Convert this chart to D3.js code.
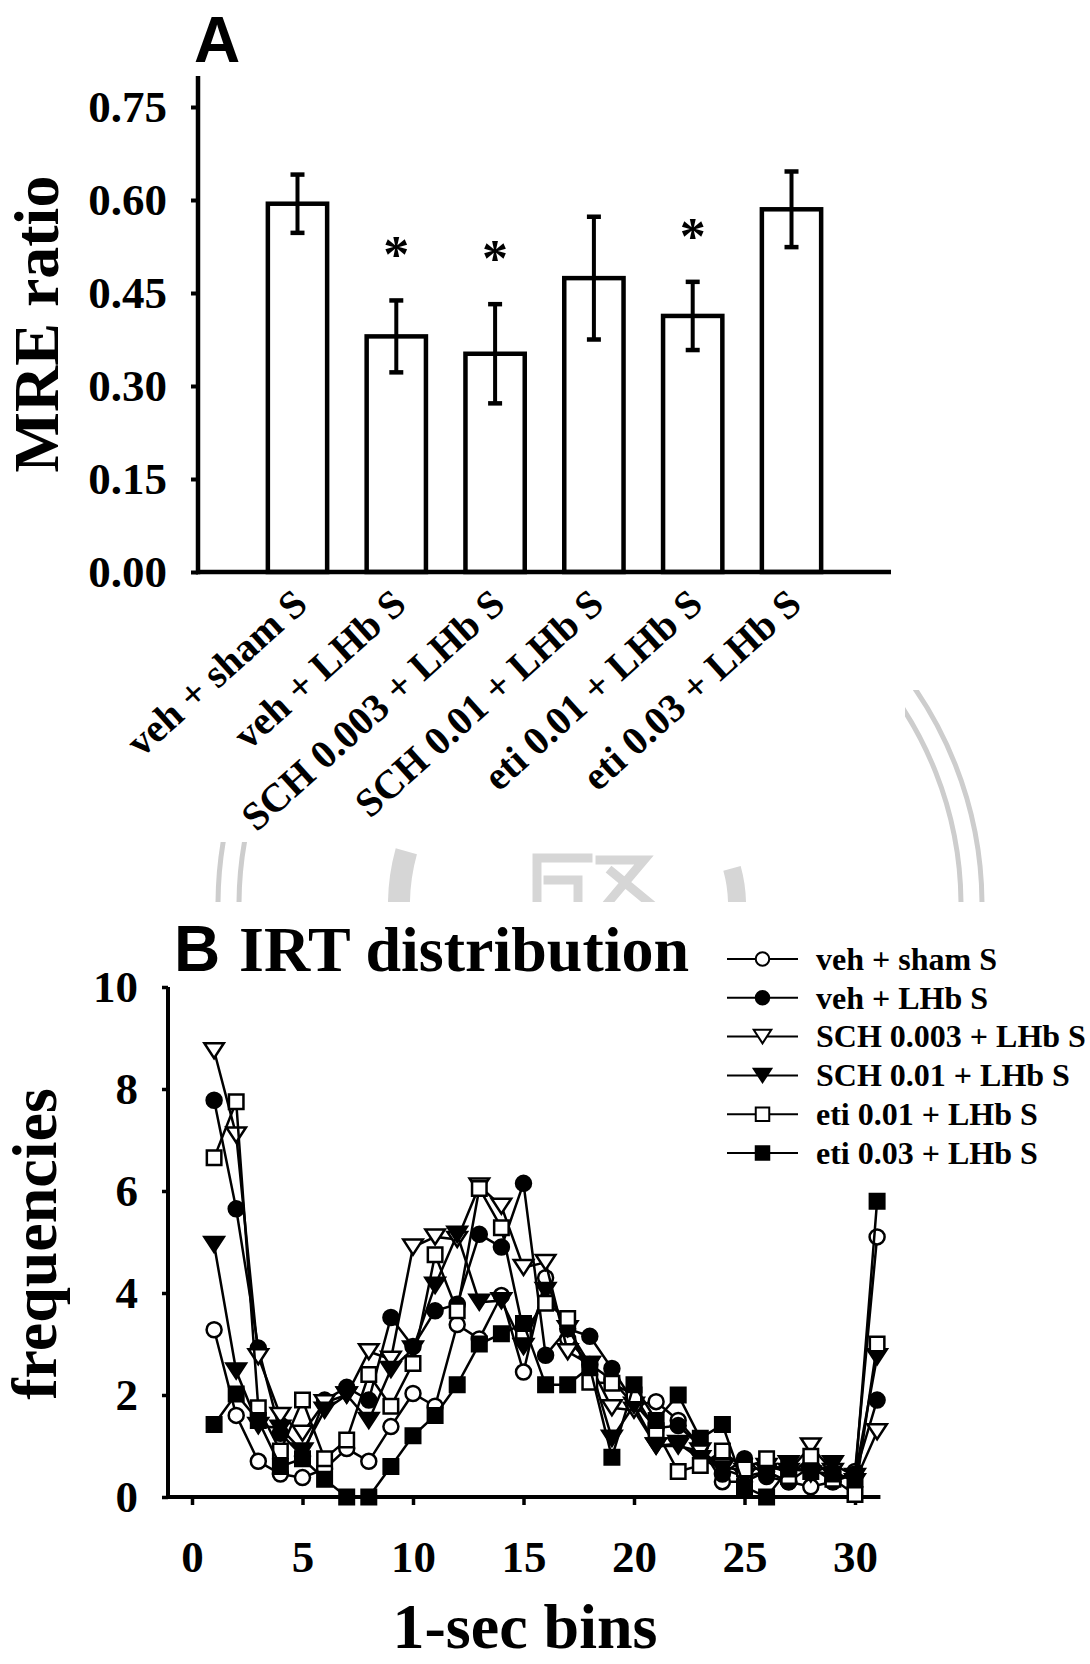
<!DOCTYPE html>
<html>
<head>
<meta charset="utf-8">
<script src="https://cdn.jsdelivr.net/npm/d3@7"></script>
<style>
  body { margin: 0; background: #fff; }
  text { font-family: "Liberation Serif", "Times New Roman", serif; font-weight: bold; fill: #000; }
  .sans { font-family: "Liberation Sans", Arial, sans-serif; }
</style>
</head>
<body>
<script>
// ---- data: panel A (MRE ratio, mean +/- SEM) ----
var groups = ["veh + sham S", "veh + LHb S", "SCH 0.003 + LHb S", "SCH 0.01 + LHb S", "eti 0.01 + LHb S", "eti 0.03 + LHb S"];
var mreMean = [0.594, 0.380, 0.352, 0.474, 0.413, 0.585];
var mreErr  = [0.047, 0.058, 0.080, 0.099, 0.055, 0.061];
var mreSig  = [false, true, true, false, true, false];
var yTicksA = [0, 0.15, 0.30, 0.45, 0.60, 0.75];

// ---- data: panel B (IRT distribution, 1-sec bins) ----
var bins = [1,2,3,4,5,6,7,8,9,10,11,12,13,14,15,16,17,18,19,20,21,22,23,24,25,26,27,28,29,30,31];
var vehSham  = [3.28,1.6,0.7,0.45,0.38,0.55,0.95,0.7,1.38,2.03,1.78,3.38,3.1,3.95,2.45,4.3,3.1,2.6,2.3,1.8,1.87,1.5,1.0,0.3,0.3,0.5,0.3,0.2,0.3,0.5,5.1];
var vehLHb   = [7.78,5.65,2.92,1.25,0.8,1.9,2.15,1.9,3.52,2.95,3.65,3.78,5.15,4.9,6.15,2.78,3.3,3.15,2.52,1.85,1.35,1.4,1.0,0.45,0.75,0.4,0.3,0.6,0.3,0.45,1.9];
var sch003   = [8.75,7.1,2.75,1.6,1.25,1.85,2.0,2.85,2.7,4.9,5.1,5.05,6.1,5.7,4.5,4.6,2.85,2.6,1.75,1.7,1.0,1.0,0.9,0.6,0.5,0.6,0.5,1.0,0.5,0.3,1.28];
var sch01    = [4.95,2.47,1.4,1.35,0.9,1.7,2.0,1.5,2.5,2.9,4.15,5.15,3.82,3.85,2.95,4.05,3.3,2.6,1.15,1.8,1.0,1.05,0.75,0.55,0.4,0.5,0.65,0.45,0.65,0.4,2.75];
var eti001   = [6.65,7.75,1.75,0.9,1.9,0.75,1.12,2.4,1.78,2.62,4.75,3.65,6.05,5.28,3.25,3.8,3.5,2.25,2.23,2.0,1.3,0.5,0.62,0.9,0.55,0.75,0.4,0.8,0.35,0.05,3.0];
var eti003   = [1.42,2.02,1.5,0.6,0.75,0.35,0,0,0.6,1.2,1.6,2.2,3.0,3.2,3.4,2.2,2.2,2.55,0.78,2.2,1.5,2.0,1.15,1.42,0.2,0,0.55,0.5,0.45,0.35,5.8];
var xTicksB = [0,5,10,15,20,25,30];
var yTicksB = [0,2,4,6,8,10];

var seriesB = [
  {name: groups[0], values: vehSham, shape: "circle",   fill: "#fff"},
  {name: groups[1], values: vehLHb,  shape: "circle",   fill: "#000"},
  {name: groups[2], values: sch003,  shape: "triangle", fill: "#fff"},
  {name: groups[3], values: sch01,   shape: "triangle", fill: "#000"},
  {name: groups[4], values: eti001,  shape: "square",   fill: "#fff"},
  {name: groups[5], values: eti003,  shape: "square",   fill: "#000"}
];

var width = 1090, height = 1664;

var svg = d3.select("body").append("svg")
    .attr("width", width)
    .attr("height", height);

// faint watermark (seal) between the two panels, mostly hidden
var defs = svg.append("defs");
defs.append("clipPath").attr("id", "wmclip")
  .append("path")
    .attr("d", "M0,842 H1090 V902 H0 Z M905,690 H1090 V902 H905 Z");
var wm = svg.append("g").attr("clip-path", "url(#wmclip)")
    .attr("fill", "none").attr("stroke", "#cdcdcd");
[382, 361].forEach(function(r) {
  wm.append("circle").attr("cx", 600).attr("cy", 905).attr("r", r).attr("stroke-width", 5);
});
wm.append("path")
    .attr("d", d3.arc().innerRadius(190).outerRadius(212).startAngle(-1.75).endAngle(-1.3)())
    .attr("transform", "translate(600,905)")
    .attr("fill", "#d6d6d6").attr("stroke", "none");
wm.append("path")
    .attr("d", d3.arc().innerRadius(128).outerRadius(146).startAngle(1.3).endAngle(1.75)())
    .attr("transform", "translate(600,905)")
    .attr("fill", "#d6d6d6").attr("stroke", "none");
// top strokes of the seal's central character
var seal = wm.append("g").attr("stroke", "#d6d6d6").attr("stroke-width", 9).attr("stroke-linecap", "square");
seal.append("path").attr("d", "M537,858 H588 M537,858 V905 M548,880 H578 M578,880 V905");
seal.append("path").attr("d", "M600,860 H644 L606,905 M612,872 L652,905");

// =================== Panel A ===================
var xA = d3.scaleBand().domain(groups).range([198, 891]).paddingInner(0.4).paddingOuter(0.707),
    yA = d3.scaleLinear().domain([0, 0.75]).range([572, 107]);

var gA = svg.append("g");

gA.append("text").attr("class", "sans")
    .attr("x", 194).attr("y", 62)
    .style("font-size", "64px")
    .text("A");

// bars
gA.selectAll(".bar")
    .data(mreMean)
  .enter().append("rect")
    .attr("class", "bar")
    .attr("x", function(d, i) { return xA(groups[i]); })
    .attr("y", function(d) { return yA(d); })
    .attr("width", xA.bandwidth())
    .attr("height", function(d) { return yA(0) - yA(d); })
    .attr("fill", "#fff")
    .attr("stroke", "#000")
    .attr("stroke-width", 4.5);

// error bars
var eb = gA.selectAll(".err")
    .data(mreMean)
  .enter().append("g")
    .attr("class", "err")
    .attr("transform", function(d, i) { return "translate(" + (xA(groups[i]) + xA.bandwidth() / 2) + ",0)"; });

eb.append("line")
    .attr("y1", function(d, i) { return yA(d - mreErr[i]); })
    .attr("y2", function(d, i) { return yA(d + mreErr[i]); })
    .attr("stroke", "#000").attr("stroke-width", 4);
eb.append("line")
    .attr("x1", -7).attr("x2", 7)
    .attr("y1", function(d, i) { return yA(d + mreErr[i]); })
    .attr("y2", function(d, i) { return yA(d + mreErr[i]); })
    .attr("stroke", "#000").attr("stroke-width", 4.5);
eb.append("line")
    .attr("x1", -7).attr("x2", 7)
    .attr("y1", function(d, i) { return yA(d - mreErr[i]); })
    .attr("y2", function(d, i) { return yA(d - mreErr[i]); })
    .attr("stroke", "#000").attr("stroke-width", 4.5);

// significance stars
eb.each(function(d, i) {
  if (!mreSig[i]) return;
  d3.select(this).append("text")
      .attr("text-anchor", "middle")
      .attr("y", yA(d + mreErr[i]) - 28)
      .style("font-size", "52px")
      .text("*");
});

// y axis
var axA = gA.append("g")
    .attr("transform", "translate(198,0)")
    .call(d3.axisLeft(yA).tickValues(yTicksA).tickFormat(d3.format(".2f")).tickSize(7).tickPadding(24));
axA.select(".domain").remove();
axA.selectAll(".tick line").attr("stroke-width", 4);
axA.selectAll(".tick text")
    .style("font-family", "'Liberation Serif', serif")
    .style("font-weight", "bold")
    .style("font-size", "45px");

gA.append("line")
    .attr("x1", 198).attr("x2", 198)
    .attr("y1", yA(0) + 2.25).attr("y2", yA(0.8))
    .attr("stroke", "#000").attr("stroke-width", 4.5);
gA.append("line")
    .attr("x1", 196).attr("x2", 891)
    .attr("y1", yA(0)).attr("y2", yA(0))
    .attr("stroke", "#000").attr("stroke-width", 4.5);

// category labels
gA.selectAll(".xlab")
    .data(groups)
  .enter().append("text")
    .attr("class", "xlab")
    .attr("text-anchor", "end")
    .attr("transform", function(d) {
      return "translate(" + (xA(d) + xA.bandwidth() / 2 + 12) + "," + (yA(0) + 35) + ") rotate(-42)";
    })
    .style("font-size", "40px")
    .text(function(d) { return d; });

gA.append("text")
    .attr("transform", "translate(58,324) rotate(-90)")
    .attr("text-anchor", "middle")
    .style("font-size", "64px")
    .text("MRE ratio");

// =================== Panel B ===================
var xB = d3.scaleLinear().domain([0, 30]).range([192, 855]),
    yB = d3.scaleLinear().domain([0, 10]).range([1497, 987]);

var gB = svg.append("g");

gB.append("text").attr("class", "sans")
    .attr("x", 174).attr("y", 971)
    .style("font-size", "64px")
    .text("B");
gB.append("text")
    .attr("x", 239).attr("y", 971)
    .style("font-size", "64px")
    .text("IRT distribution");

var axBx = gB.append("g")
    .attr("transform", "translate(0," + yB(0) + ")")
    .call(d3.axisBottom(xB).tickValues(xTicksB).tickSize(8).tickPadding(35));
axBx.select(".domain").remove();
axBx.selectAll(".tick line").attr("stroke-width", 3.5);

var axBy = gB.append("g")
    .attr("transform", "translate(168,0)")
    .call(d3.axisLeft(yB).tickValues(yTicksB).tickSize(6).tickPadding(24));
axBy.select(".domain").remove();
axBy.selectAll(".tick line").attr("stroke-width", 3.5);

gB.selectAll(".tick text")
    .style("font-family", "'Liberation Serif', serif")
    .style("font-weight", "bold")
    .style("font-size", "45px");

gB.append("line")
    .attr("x1", 168).attr("x2", 168)
    .attr("y1", yB(0) + 2).attr("y2", yB(10))
    .attr("stroke", "#000").attr("stroke-width", 4);
gB.append("line")
    .attr("x1", 166).attr("x2", xB(31.15))
    .attr("y1", yB(0)).attr("y2", yB(0))
    .attr("stroke", "#000").attr("stroke-width", 4);

function markerPath(shape, s) {
  if (shape === "triangle") {
    var p = d3.path();
    p.moveTo(-s * 0.65, -s * 0.5);
    p.lineTo(s * 0.65, -s * 0.5);
    p.lineTo(0, s * 0.5);
    p.closePath();
    return p.toString();
  }
  var type = shape === "circle" ? d3.symbolCircle : d3.symbolSquare;
  var area = shape === "circle" ? Math.PI * (s / 2) * (s / 2) : s * s;
  return d3.symbol().type(type).size(area)();
}

var line = d3.line()
    .x(function(d, i) { return xB(bins[i]); })
    .y(function(d) { return yB(d); });

var plots = gB.selectAll(".series")
    .data(seriesB)
  .enter().append("g")
    .attr("class", "series");

plots.each(function(s) {
  var g = d3.select(this);
  g.append("path")
      .attr("d", line(s.values))
      .attr("fill", "none")
      .attr("stroke", "#000")
      .attr("stroke-width", 2.5);
  g.selectAll(".pt")
      .data(s.values)
    .enter().append("path")
      .attr("class", "pt")
      .attr("transform", function(d, i) { return "translate(" + xB(bins[i]) + "," + yB(d) + ")"; })
      .attr("d", markerPath(s.shape, s.shape === "square" ? 14.5 : 15))
      .attr("fill", s.fill)
      .attr("stroke", "#000")
      .attr("stroke-width", 2.5);
});

// legend
var legend = gB.selectAll(".legend")
    .data(seriesB)
  .enter().append("g")
    .attr("class", "legend")
    .attr("transform", function(d, i) { return "translate(727," + (959 + i * 38.8) + ")"; });

legend.append("line")
    .attr("x1", 0).attr("x2", 71)
    .attr("stroke", "#000").attr("stroke-width", 2);
legend.append("path")
    .attr("transform", "translate(35.5,0)")
    .attr("d", function(d) { return markerPath(d.shape, 13.5); })
    .attr("fill", function(d) { return d.fill; })
    .attr("stroke", "#000")
    .attr("stroke-width", 2);
legend.append("text")
    .attr("x", 89).attr("y", 10.7)
    .style("font-size", "32px")
    .text(function(d) { return d.name; });

gB.append("text")
    .attr("transform", "translate(56,1244) rotate(-90)")
    .attr("text-anchor", "middle")
    .style("font-size", "64px")
    .text("frequencies");

gB.append("text")
    .attr("x", 525).attr("y", 1648)
    .attr("text-anchor", "middle")
    .style("font-size", "64px")
    .text("1-sec bins");
</script>
</body>
</html>
